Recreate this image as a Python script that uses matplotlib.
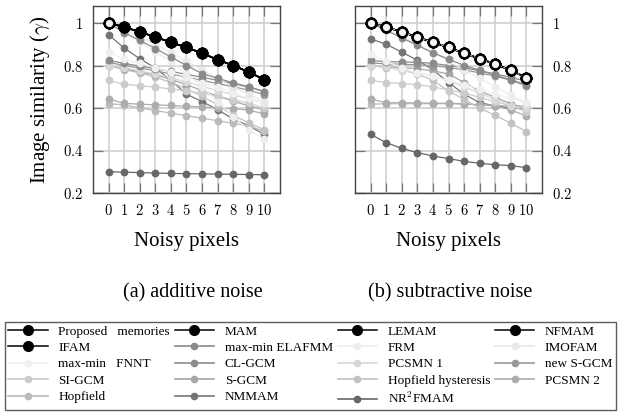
import matplotlib
matplotlib.use("Agg")
import matplotlib.pyplot as plt
from matplotlib.lines import Line2D
from matplotlib.ticker import FuncFormatter, FixedLocator

plt.rcParams['font.family'] = ['Liberation Serif', 'DejaVu Serif']
plt.rcParams['mathtext.fontset'] = 'cm'

# ---------------- data ----------------
noisy_pixels = [0, 1, 2, 3, 4, 5, 6, 7, 8, 9, 10]
y_ticks = [0.2, 0.4, 0.6, 0.8, 1.0]

series_names = ["Proposed   memories", "MAM", "LEMAM", "NFMAM", "IFAM",
                "max-min ELAFMM", "FRM", "IMOFAM", "max-min   FNNT", "CL-GCM",
                "PCSMN 1", "new S-GCM", "SI-GCM", "S-GCM", "Hopfield hysteresis",
                "PCSMN 2", "Hopfield", "NMMAM", r"NR$^{\mathrm{2}}$FMAM"]

# additive noise
add_proposed = [1.0, 0.981, 0.958, 0.934, 0.909, 0.885, 0.858, 0.827, 0.800, 0.769, 0.733]
add_mam = [1.0, 0.981, 0.958, 0.934, 0.909, 0.885, 0.858, 0.827, 0.800, 0.769, 0.733]
add_lemam = [1.0, 0.981, 0.958, 0.934, 0.909, 0.885, 0.858, 0.827, 0.800, 0.769, 0.733]
add_nfmam = [1.0, 0.981, 0.958, 0.934, 0.909, 0.885, 0.858, 0.827, 0.800, 0.769, 0.733]
add_ifam = [1.0, 0.981, 0.958, 0.934, 0.909, 0.885, 0.858, 0.827, 0.800, 0.769, 0.733]
add_elafmm = [1.0, 0.955, 0.918, 0.880, 0.840, 0.800, 0.762, 0.740, 0.718, 0.700, 0.677]
add_frm = [1.0, 0.960, 0.910, 0.865, 0.820, 0.760, 0.700, 0.630, 0.560, 0.495, 0.453]
add_imofam = [1.0, 0.970, 0.935, 0.900, 0.860, 0.820, 0.780, 0.740, 0.700, 0.665, 0.630]
add_fnnt = [0.863, 0.830, 0.810, 0.790, 0.770, 0.745, 0.720, 0.700, 0.670, 0.645, 0.625]
add_clgcm = [0.824, 0.810, 0.797, 0.785, 0.772, 0.758, 0.745, 0.730, 0.715, 0.698, 0.677]
add_newsgcm = [0.815, 0.800, 0.788, 0.775, 0.760, 0.745, 0.730, 0.715, 0.700, 0.684, 0.662]
add_pcsmn1 = [0.800, 0.790, 0.775, 0.760, 0.742, 0.722, 0.702, 0.682, 0.662, 0.642, 0.625]
add_sgcm = [0.800, 0.785, 0.770, 0.755, 0.735, 0.710, 0.682, 0.656, 0.632, 0.610, 0.591]
add_sigcm = [0.730, 0.712, 0.705, 0.698, 0.690, 0.680, 0.670, 0.655, 0.640, 0.622, 0.600]
add_hhyst = [0.800, 0.780, 0.765, 0.745, 0.720, 0.690, 0.655, 0.615, 0.565, 0.530, 0.497]
add_pcsmn2 = [0.642, 0.622, 0.618, 0.615, 0.612, 0.608, 0.605, 0.600, 0.597, 0.590, 0.572]
add_hopfield = [0.620, 0.615, 0.600, 0.588, 0.576, 0.564, 0.552, 0.540, 0.528, 0.516, 0.490]
add_nmmam = [0.945, 0.882, 0.832, 0.788, 0.730, 0.665, 0.630, 0.592, 0.548, 0.516, 0.476]
add_nr2fmam = [0.300, 0.298, 0.296, 0.294, 0.292, 0.291, 0.290, 0.289, 0.288, 0.287, 0.286]

# subtractive noise
sub_proposed = [1.0, 0.981, 0.958, 0.934, 0.909, 0.885, 0.858, 0.832, 0.807, 0.777, 0.743]
sub_mam = [1.0, 0.981, 0.958, 0.934, 0.909, 0.885, 0.858, 0.832, 0.807, 0.777, 0.743]
sub_lemam = [1.0, 0.981, 0.958, 0.934, 0.909, 0.885, 0.858, 0.832, 0.807, 0.777, 0.743]
sub_nfmam = [1.0, 0.981, 0.958, 0.934, 0.909, 0.885, 0.858, 0.832, 0.807, 0.777, 0.743]
sub_ifam = [1.0, 0.981, 0.958, 0.934, 0.909, 0.885, 0.858, 0.832, 0.807, 0.777, 0.743]
sub_elafmm = [1.0, 0.965, 0.930, 0.895, 0.860, 0.830, 0.800, 0.778, 0.755, 0.733, 0.709]
sub_frm = [1.0, 0.970, 0.935, 0.900, 0.860, 0.820, 0.780, 0.740, 0.700, 0.660, 0.625]
sub_imofam = [1.0, 0.975, 0.952, 0.928, 0.903, 0.879, 0.853, 0.827, 0.802, 0.772, 0.740]
sub_fnnt = [0.855, 0.820, 0.790, 0.765, 0.750, 0.730, 0.710, 0.690, 0.665, 0.645, 0.625]
sub_clgcm = [0.824, 0.818, 0.817, 0.815, 0.810, 0.800, 0.790, 0.775, 0.760, 0.745, 0.725]
sub_newsgcm = [0.812, 0.808, 0.806, 0.803, 0.800, 0.790, 0.780, 0.765, 0.750, 0.730, 0.705]
sub_pcsmn1 = [0.800, 0.795, 0.775, 0.765, 0.750, 0.730, 0.700, 0.670, 0.640, 0.610, 0.598]
sub_sgcm = [0.800, 0.795, 0.790, 0.785, 0.775, 0.760, 0.720, 0.680, 0.650, 0.620, 0.598]
sub_sigcm = [0.730, 0.720, 0.715, 0.710, 0.700, 0.685, 0.670, 0.650, 0.630, 0.610, 0.583]
sub_hhyst = [0.800, 0.790, 0.780, 0.760, 0.730, 0.680, 0.640, 0.600, 0.565, 0.528, 0.489]
sub_pcsmn2 = [0.642, 0.625, 0.625, 0.624, 0.623, 0.622, 0.620, 0.615, 0.610, 0.590, 0.563]
sub_hopfield = [0.618, 0.620, 0.620, 0.620, 0.620, 0.620, 0.618, 0.615, 0.612, 0.610, 0.608]
sub_nmmam = [0.925, 0.900, 0.863, 0.825, 0.780, 0.720, 0.665, 0.625, 0.610, 0.600, 0.595]
sub_nr2fmam = [0.476, 0.437, 0.410, 0.390, 0.374, 0.362, 0.349, 0.340, 0.333, 0.329, 0.319]

additive = [add_proposed, add_mam, add_lemam, add_nfmam, add_ifam, add_elafmm, add_frm,
            add_imofam, add_fnnt, add_clgcm, add_pcsmn1, add_newsgcm, add_sigcm, add_sgcm,
            add_hhyst, add_pcsmn2, add_hopfield, add_nmmam, add_nr2fmam]
subtractive = [sub_proposed, sub_mam, sub_lemam, sub_nfmam, sub_ifam, sub_elafmm, sub_frm,
               sub_imofam, sub_fnnt, sub_clgcm, sub_pcsmn1, sub_newsgcm, sub_sigcm, sub_sgcm,
               sub_hhyst, sub_pcsmn2, sub_hopfield, sub_nmmam, sub_nr2fmam]

# ---------------- styles ----------------
colors = ['black', 'black', 'black', 'black', 'black',
          '#8a8a8a', '#ededed', '#e8e8e8', '#f0f0f0', '#8c8c8c',
          '#d8d8d8', '#999999', '#cccccc', '#a6a6a6', '#c2c2c2',
          '#adadad', '#bababa', '#757575', '#676767']
is_big = [True] * 5 + [False] * 14

fig = plt.figure(figsize=(6.26, 4.16), dpi=100)
W, H = 626, 416
ax1 = fig.add_axes([93 / W, 1 - 193 / H, 187 / W, 187 / H])
ax2 = fig.add_axes([355 / W, 1 - 193 / H, 187 / W, 187 / H])

fmt = FuncFormatter(lambda v, p: f'${v:g}$')


def draw(ax, data, hollow_all):
    for i in range(5, 19):
        ax.plot(noisy_pixels, data[i], color=colors[i], lw=0.9, marker='o',
                ms=4.6, mec=colors[i], mfc=colors[i], zorder=3 + (1 - 0.001 * i))
    for i in range(4, -1, -1):
        ax.plot(noisy_pixels, data[i], color='black', lw=1.1, marker='o',
                ms=7.5, mec='black', mfc='black', zorder=5)
    ax.plot(noisy_pixels, data[0], color='none', marker='o', ms=6.8,
            mec='black', mew=1.6, mfc='#f6f6f6', zorder=6,
            markevery=None if hollow_all else [0])
    if hollow_all:
        ax.plot(noisy_pixels, data[0], color='#bdbdbd', lw=0.8, ls=(0, (2, 1.5)), zorder=5.5)

    ax.set_xlim(-1, 11)
    ax.set_ylim(0.2, 1.08)
    ax.xaxis.set_major_locator(FixedLocator(noisy_pixels))
    ax.yaxis.set_major_locator(FixedLocator(y_ticks))
    ax.xaxis.set_major_formatter(fmt)
    ax.yaxis.set_major_formatter(fmt)
    ax.grid(True, color='#cfcfcf', lw=1.2, zorder=0)
    ax.set_axisbelow(True)
    ax.tick_params(direction='in', length=7, width=0.9, color='#777777',
                   top=True, bottom=True, left=True, right=True,
                   labelsize=10.5, pad=7)
    for s in ax.spines.values():
        s.set_color('#444444')
        s.set_linewidth(1.0)
    ax.set_xlabel('Noisy pixels', fontsize=15, labelpad=10)


draw(ax1, additive, False)
draw(ax2, subtractive, True)

ax1.set_ylabel(r'Image similarity ($\gamma$)', fontsize=15, labelpad=8)
ax2.tick_params(labelleft=False, labelright=True)

fig.text(193 / W, 1 - 293 / H, '(a) additive noise', ha='center', va='center', fontsize=14.5)
fig.text(450 / W, 1 - 293 / H, '(b) subtractive noise', ha='center', va='center', fontsize=14.5)

# legend
handles = []
for i in range(19):
    if is_big[i]:
        h = Line2D([], [], color='black', lw=1.1, marker='o', ms=7, mfc='black', mec='black')
    else:
        h = Line2D([], [], color=colors[i], lw=1.2, marker='o', ms=4.5,
                   mfc=colors[i], mec=colors[i])
    handles.append(h)

ncol = 4
nrow = 5
col_order = []
for c in range(ncol):
    for r in range(nrow):
        idx = r * ncol + c
        if idx < 19:
            col_order.append(idx)

leg = fig.legend([handles[i] for i in col_order], [series_names[i] for i in col_order],
                 ncol=ncol, loc='upper left', bbox_to_anchor=(5 / W, 1 - 322 / H),
                 fontsize=9.5, frameon=True, fancybox=False,
                 edgecolor='#333333', handlelength=3.0, handletextpad=0.8,
                 labelspacing=0.32, columnspacing=0.35, borderpad=0.25, borderaxespad=0)
leg.get_frame().set_linewidth(1.0)

fig.savefig('out.png', dpi=100)
